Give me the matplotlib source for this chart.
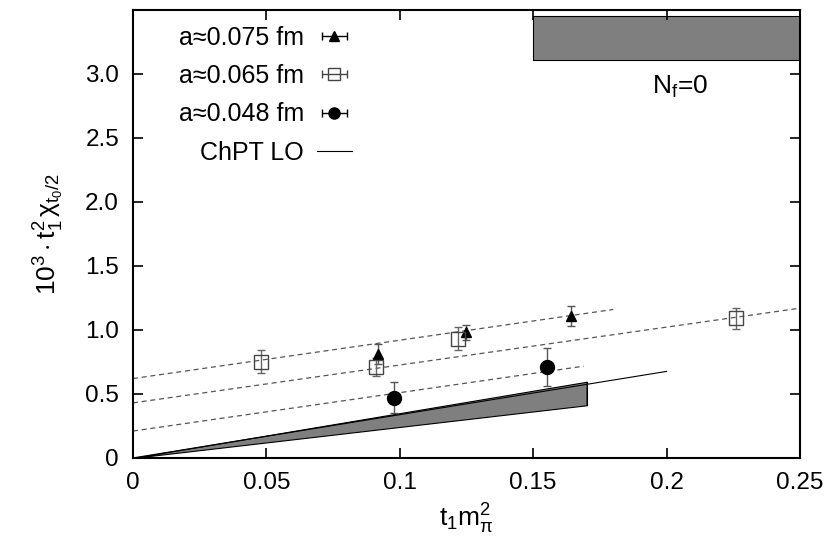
import matplotlib.pyplot as plt
import numpy as np

plt.rcParams['font.family'] = ['Liberation Sans', 'DejaVu Sans']
plt.rcParams['mathtext.fontset'] = 'custom'
plt.rcParams['mathtext.rm'] = 'Liberation Sans'
plt.rcParams['mathtext.it'] = 'Liberation Sans'
plt.rcParams['mathtext.bf'] = 'Liberation Sans:bold'

# a ~ 0.075 fm
x075 = [0.092, 0.125, 0.164]
y075 = [0.81, 0.98, 1.11]
e075 = [0.08, 0.06, 0.08]

# a ~ 0.065 fm
x065 = [0.048, 0.091, 0.122, 0.226]
y065 = [0.75, 0.71, 0.93, 1.09]
e065 = [0.09, 0.07, 0.09, 0.08]

# a ~ 0.048 fm
x048 = [0.098, 0.155]
y048 = [0.47, 0.71]
e048 = [0.12, 0.15]

# linear fits (intercept, slope, x end)
fit_icpt = [0.62, 0.43, 0.21]
fit_slope = [3.0, 2.96, 3.0]
fit_xend = [0.18, 0.25, 0.169]

# ChPT LO
chpt_slope = 3.38
chpt_xend = 0.2
band_slope_hi = 3.5
band_slope_lo = 2.42
band_xend = 0.17

# Nf=0 band
nf0_x = [0.15, 0.25]
nf0_y = [3.11, 3.45]

fig = plt.figure(figsize=(8.39, 5.40), dpi=100)
ax = fig.add_axes([0.1585, 0.152, 0.795, 0.8295])

for c, s, xe in zip(fit_icpt, fit_slope, fit_xend):
    xs = np.array([0, xe])
    ax.plot(xs, c + s * xs, ls=(0, (4, 3)), color='#555555', lw=0.9)

xb = np.array([0, band_xend])
ax.fill_between(xb, band_slope_lo * xb, band_slope_hi * xb, facecolor='#7f7f7f',
                edgecolor='black', lw=0.8)
ax.plot([band_xend, band_xend], [band_slope_lo * band_xend, band_slope_hi * band_xend],
        color='black', lw=0.8)
xc = np.array([0, chpt_xend])
ax.plot(xc, chpt_slope * xc, color='black', lw=0.8)

ax.fill_between(nf0_x, nf0_y[0], nf0_y[1], facecolor='#7f7f7f', edgecolor='black', lw=0.8)
ax.text(0.205, 2.9, r'N$_\mathrm{f}$=0', fontsize=19, ha='center', va='center')

ax.errorbar(x075, y075, yerr=e075, fmt='^', color='black', ms=7, ecolor='#555555',
            capsize=3, elinewidth=1)
ax.errorbar(x065, y065, yerr=e065, fmt='s', color='#444444', mfc='none', ms=10,
            ecolor='#666666', capsize=3, elinewidth=1, mew=1)
ax.errorbar(x048, y048, yerr=e048, fmt='o', color='black', ms=10, ecolor='#555555',
            capsize=3, elinewidth=1)

# legend proxies with horizontal bars
h1 = ax.errorbar([np.nan], [np.nan], xerr=[1], fmt='^', color='black', ms=7, capsize=3, elinewidth=1)
h2 = ax.errorbar([np.nan], [np.nan], xerr=[1], fmt='s', color='#444444', mfc='none', ms=8, capsize=3, elinewidth=1)
h3 = ax.errorbar([np.nan], [np.nan], xerr=[1], fmt='o', color='black', ms=8, capsize=3, elinewidth=1)
h4, = ax.plot([np.nan], [np.nan], color='black', lw=0.8)
leg = ax.legend([h1, h2, h3, h4], ['a≈0.075 fm', 'a≈0.065 fm', 'a≈0.048 fm', 'ChPT LO'],
                loc='upper left', bbox_to_anchor=(0.035, 1.015), frameon=False, markerfirst=False,
                fontsize=18, handlelength=1.4, labelspacing=0.57, handletextpad=0.5)
for t in leg.get_texts():
    t.set_ha('right')

ax.set_xlim(0, 0.25)
ax.set_ylim(0, 3.5)
ax.set_xticks([0, 0.05, 0.1, 0.15, 0.2, 0.25])
ax.set_xticklabels(['0', '0.05', '0.1', '0.15', '0.2', '0.25'])
ax.set_yticks([0, 0.5, 1.0, 1.5, 2.0, 2.5, 3.0])
ax.set_yticklabels(['0', '0.5', '1.0', '1.5', '2.0', '2.5', '3.0'])
ax.tick_params(direction='in', top=True, right=True, length=7, width=1.2, labelsize=17.5, pad=10)
for sp in ax.spines.values():
    sp.set_linewidth(1.5)

ax.set_xlabel(r'$\mathrm{t_1 m_\pi^2}$', fontsize=19, labelpad=6)
ax.set_ylabel(r'$\mathrm{10^3 \cdot t_1^2\,}\chi_{\mathrm{t_0/2}}$', fontsize=19, labelpad=14)

fig.savefig('out.png', dpi=100)
